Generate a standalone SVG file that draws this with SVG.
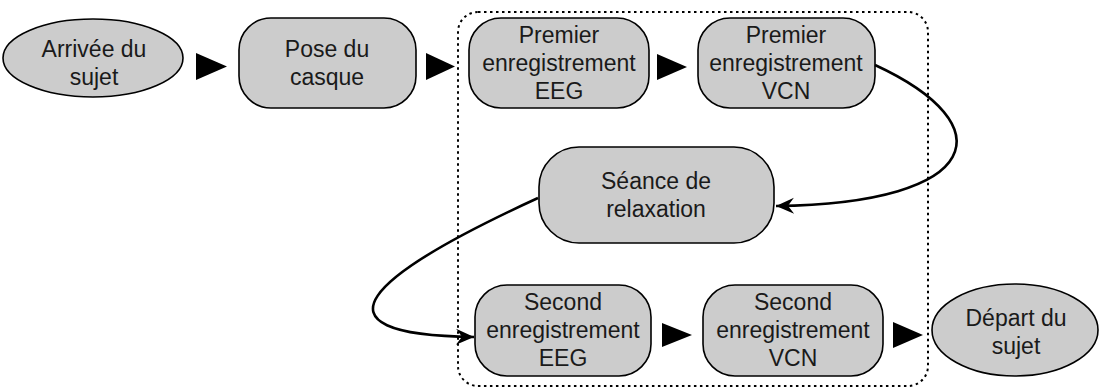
<svg xmlns="http://www.w3.org/2000/svg" width="1103" height="388" viewBox="0 0 1103 388">
<style>
.n{fill:#cccccc;stroke:#000;stroke-width:1.6}
.t{font-family:"Liberation Sans",Arial,sans-serif;font-size:23px;fill:#1a1a1a;text-anchor:middle}
.tri{fill:#000}
.c{fill:none;stroke:#000;stroke-width:2.6}
.grp{fill:none;stroke:#000;stroke-width:2;stroke-dasharray:2.5 3.5}
</style>
<defs>
<marker id="ah" markerUnits="userSpaceOnUse" markerWidth="24" markerHeight="20" viewBox="-20 -10 24 20" refX="0" refY="0" orient="auto">
<path d="M0,0 L-18,-8 L-12,0 L-18,8 Z" fill="#000"/>
</marker>
</defs>
<rect class="grp" x="458" y="12" width="470" height="374" rx="20" ry="20"/>
<g id="arrivee">
<ellipse class="n" cx="93" cy="58" rx="90" ry="39"/>
<text class="t" x="94" y="57">Arrivée du</text>
<text class="t" x="94" y="85">sujet</text>
</g>
<g id="pose">
<rect class="n" x="239" y="18" width="177" height="90" rx="32" ry="32"/>
<text class="t" x="327" y="57">Pose du</text>
<text class="t" x="327" y="85">casque</text>
</g>
<g id="premier-eeg">
<rect class="n" x="469" y="18" width="180" height="90" rx="32" ry="32"/>
<text class="t" x="559" y="43">Premier</text>
<text class="t" x="559" y="71">enregistrement</text>
<text class="t" x="559" y="99">EEG</text>
</g>
<g id="premier-vcn">
<rect class="n" x="698" y="18" width="177" height="90" rx="32" ry="32"/>
<text class="t" x="786" y="43">Premier</text>
<text class="t" x="786" y="71">enregistrement</text>
<text class="t" x="786" y="99">VCN</text>
</g>
<g id="seance">
<rect class="n" x="539" y="147" width="235" height="96" rx="40" ry="40"/>
<text class="t" x="656" y="189">Séance de</text>
<text class="t" x="656" y="217">relaxation</text>
</g>
<g id="second-eeg">
<rect class="n" x="475" y="285" width="176" height="91" rx="32" ry="32"/>
<text class="t" x="563" y="310">Second</text>
<text class="t" x="563" y="338">enregistrement</text>
<text class="t" x="563" y="366">EEG</text>
</g>
<g id="second-vcn">
<rect class="n" x="703" y="285" width="180" height="91" rx="32" ry="32"/>
<text class="t" x="793" y="310">Second</text>
<text class="t" x="793" y="338">enregistrement</text>
<text class="t" x="793" y="366">VCN</text>
</g>
<g id="depart">
<ellipse class="n" cx="1015" cy="330" rx="83" ry="46"/>
<text class="t" x="1016" y="326">Départ du</text>
<text class="t" x="1016" y="354">sujet</text>
</g>
<g id="connectors">
<polygon class="tri" points="196,53 227,66.5 196,80"/>
<polygon class="tri" points="426,53 455,66.5 426,80"/>
<polygon class="tri" points="657,54 687,67 657,80"/>
<polygon class="tri" points="662,323 692,335 662,347"/>
<polygon class="tri" points="893,322 923,335 893,348"/>
<path class="c" d="M875,65 C1005,125 985,203 776,206" marker-end="url(#ah)"/>
<path class="c" d="M538,198 C370,275 300,335 474,337" marker-end="url(#ah)"/>
</g>
</svg>
